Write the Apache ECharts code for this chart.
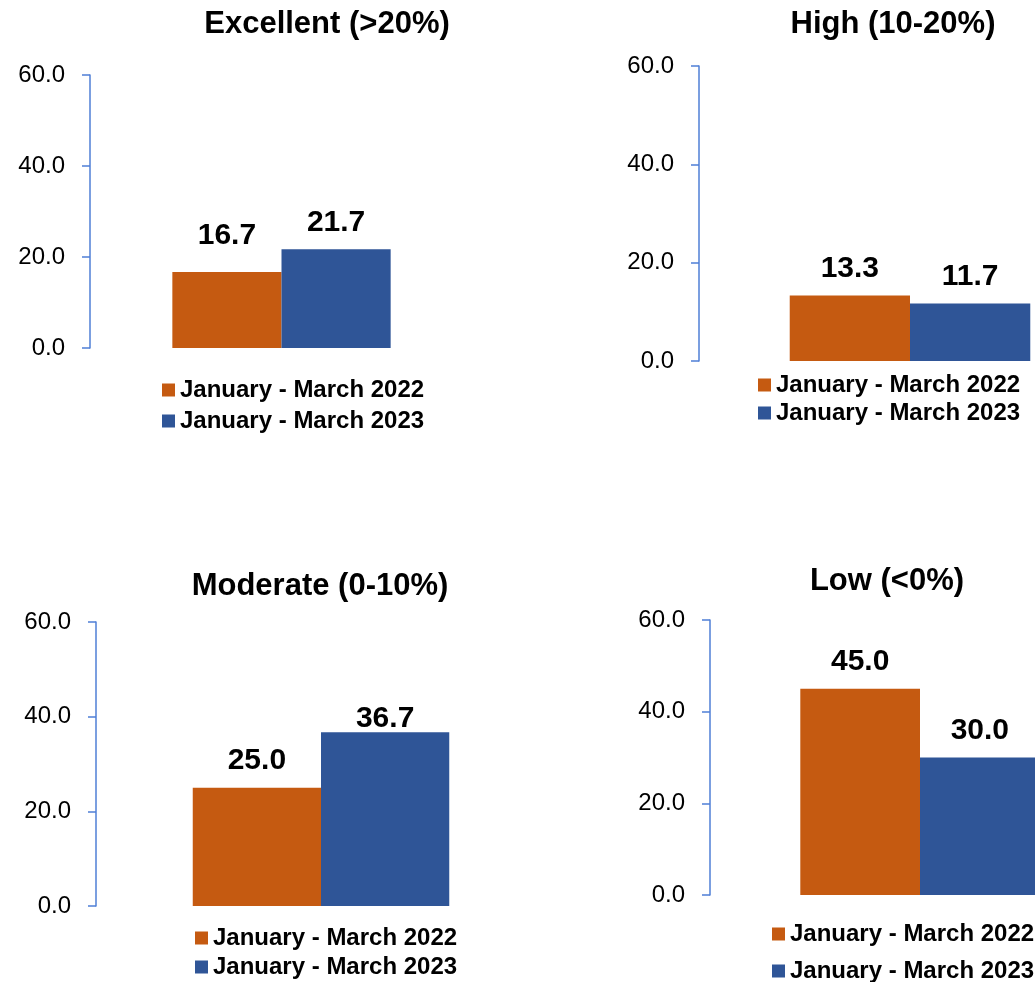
<!DOCTYPE html>
<html>
<head>
<meta charset="utf-8">
<title>Profitability bands, January - March 2022 vs 2023</title>
<script src="https://cdn.jsdelivr.net/npm/echarts@6/dist/echarts.min.js"></script>
<style>
  html, body { margin: 0; padding: 0; background: #ffffff; }
  #chart { width: 1035px; height: 982px; }
</style>
</head>
<body>
<div id="chart"></div>
<script>
// Band names (one small chart per band)
const bands = ['Excellent (>20%)', 'High (10-20%)', 'Moderate (0-10%)', 'Low (<0%)'];
// Series names
const periodNames = ['January - March 2022', 'January - March 2023'];
// Values per band
const values2022 = [16.7, 13.3, 25.0, 45.0];
const values2023 = [21.7, 11.7, 36.7, 30.0];
// Value axis range
const axisMin = 0;
const axisMax = 60;
const axisStep = 20;

const FONT = '"Liberation Sans", Arial, sans-serif';
const ORANGE = '#C55A11';
const BLUE = '#2F5597';
const AXIS_BLUE = '#4F7FD6';

// Placement of each small chart: plot area, title, legend
// (the two right-hand plots run past the right edge of the page)
const panels = [
  { grid: { left: 90,  top: 75,  width: 383, height: 273 }, title: { x: 327, y: 9 },   legend: { left: 162, top: 378, gap: 7 } },
  { grid: { left: 699, top: 66,  width: 422, height: 295 }, title: { x: 893, y: 9 },   legend: { left: 758, top: 373, gap: 4 } },
  { grid: { left: 96,  top: 622, width: 450, height: 284 }, title: { x: 320, y: 571 }, legend: { left: 195, top: 926, gap: 5 } },
  { grid: { left: 710, top: 620, width: 420, height: 275 }, title: { x: 887, y: 566 }, legend: { left: 772, top: 922, gap: 13 } }
];

// Label offsets above the bars (px), per panel and series
const labelLift = [
  [21, 12],
  [12, 12],
  [12, -1],
  [12, 12]
];

const grids = [], xAxes = [], yAxes = [], titles = [], legends = [], series = [];

panels.forEach((p, i) => {
  grids.push(Object.assign({ containLabel: false, outerBoundsMode: 'none' }, p.grid));
  titles.push({
    text: bands[i],
    left: p.title.x,
    top: p.title.y,
    textAlign: 'center',
    padding: 0,
    textStyle: { fontFamily: FONT, fontSize: 31, fontWeight: 'bold', color: '#000' }
  });
  legends.push({
    data: periodNames,
    orient: 'vertical',
    left: p.legend.left,
    top: p.legend.top,
    width: 300,
    height: 100,
    padding: 0,
    itemGap: p.legend.gap,
    itemWidth: 13,
    itemHeight: 13,
    icon: 'rect',
    selectedMode: false,
    textStyle: { fontFamily: FONT, fontSize: 24, fontWeight: 'bold', color: '#000' }
  });
  xAxes.push({
    type: 'category',
    gridIndex: i,
    data: [bands[i]],
    show: false
  });
  yAxes.push({
    type: 'value',
    gridIndex: i,
    min: axisMin,
    max: axisMax,
    interval: axisStep,
    axisLine: { show: true, lineStyle: { color: AXIS_BLUE, width: 1.5 } },
    axisTick: { show: true, inside: false, length: 8, lineStyle: { color: AXIS_BLUE, width: 1.5 } },
    splitLine: { show: false },
    axisLabel: {
      margin: 25,
      fontFamily: FONT,
      fontSize: 24,
      color: '#000',
      formatter: v => v.toFixed(1)
    }
  });
  [values2022, values2023].forEach((vals, s) => {
    series.push({
      type: 'bar',
      name: periodNames[s],
      xAxisIndex: i,
      yAxisIndex: i,
      barGap: '0%',
      barCategoryGap: '43%',
      itemStyle: { color: s === 0 ? ORANGE : BLUE },
      label: {
        show: true,
        position: 'top',
        distance: labelLift[i][s],
        fontFamily: FONT,
        fontSize: 30,
        fontWeight: 'bold',
        color: '#000',
        formatter: d => Number(d.value).toFixed(1)
      },
      emphasis: { disabled: true },
      data: [vals[i]]
    });
  });
});

const chart = echarts.init(document.getElementById('chart'), null, { renderer: 'canvas' });
chart.setOption({
  animation: false,
  backgroundColor: '#ffffff',
  color: [ORANGE, BLUE],
  title: titles,
  legend: legends,
  grid: grids,
  xAxis: xAxes,
  yAxis: yAxes,
  series: series
});
</script>
</body>
</html>
